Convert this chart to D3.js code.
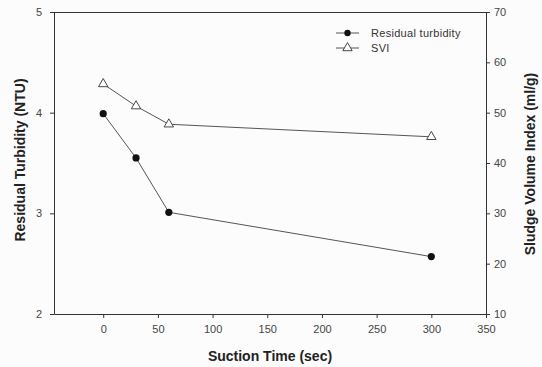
<!DOCTYPE html>
<html>
<head>
<meta charset="utf-8">
<script src="https://cdn.jsdelivr.net/npm/d3@7"></script>
<style>
  html, body { margin: 0; padding: 0; background: #fcfcfc; }
  svg { display: block; }
  .tick text { font-family: "Liberation Sans", Arial, sans-serif; font-size: 11px; fill: #444; }
  .title { font-family: "Liberation Sans", Arial, sans-serif; font-size: 14px; font-weight: bold; fill: #222; }
  .legend { font-family: "Liberation Sans", Arial, sans-serif; font-size: 11px; fill: #333; letter-spacing: 0.3px; }
</style>
</head>
<body>
<script>
// Suction time (sec) and the two measured responses
const times = [0, 30, 60, 300];
const turbidity = [3.99, 3.55, 3.01, 2.57];   // NTU
const svi = [55.7, 51.3, 47.7, 45.2];          // ml/g
const xTicks = [0, 50, 100, 150, 200, 250, 300, 350];
const yLeftTicks = [2, 3, 4, 5];
const yRightTicks = [10, 20, 30, 40, 50, 60, 70];
const seriesNames = ["Residual turbidity", "SVI"];

const W = 542, H = 367;
const m = { left: 54, right: 56, top: 12, bottom: 53 };

const svg = d3.select("body").append("svg").attr("width", W).attr("height", H);

const x = d3.scaleLinear().domain([-45, 350]).range([m.left, W - m.right]);
const yL = d3.scaleLinear().domain([2, 5]).range([H - m.bottom, m.top]);
const yR = d3.scaleLinear().domain([10, 70]).range([H - m.bottom, m.top]);

const axisColor = "#333";
const fmt = d3.format("d");

// Plot frame top edge
svg.append("line")
  .attr("x1", x.range()[0]).attr("x2", x.range()[1])
  .attr("y1", m.top + 0.5).attr("y2", m.top + 0.5)
  .attr("stroke", axisColor);

const gx = svg.append("g").attr("transform", `translate(0,${H - m.bottom})`)
  .call(d3.axisBottom(x).tickValues(xTicks).tickFormat(fmt).tickSize(4).tickPadding(7).tickSizeOuter(0));
const gl = svg.append("g").attr("transform", `translate(${m.left},0)`)
  .call(d3.axisLeft(yL).tickValues(yLeftTicks).tickFormat(fmt).tickSize(4).tickPadding(8).tickSizeOuter(0));
const gr = svg.append("g").attr("transform", `translate(${W - m.right},0)`)
  .call(d3.axisRight(yR).tickValues(yRightTicks).tickFormat(fmt).tickSize(4).tickPadding(4).tickSizeOuter(0));
[gx, gl, gr].forEach(g => {
  g.selectAll("path, line").attr("stroke", axisColor);
});

// Axis titles
svg.append("text").attr("class", "title")
  .attr("x", 270).attr("y", 361)
  .attr("text-anchor", "middle").text("Suction Time (sec)");
svg.append("text").attr("class", "title")
  .attr("transform", `translate(25,160) rotate(-90)`)
  .attr("text-anchor", "middle").text("Residual Turbidity (NTU)");
svg.append("text").attr("class", "title")
  .attr("transform", `translate(535,164) rotate(-90)`)
  .attr("text-anchor", "middle").text("Sludge Volume Index (ml/g)");

const lineColor = "#555";
const tri = d3.symbol().type(d3.symbolTriangle).size(38);

// Residual turbidity series (left axis)
const turbPts = times.map((t, i) => [x(t), yL(turbidity[i])]);
svg.append("path").attr("d", d3.line()(turbPts))
  .attr("fill", "none").attr("stroke", lineColor).attr("stroke-width", 1);
svg.selectAll(".turb").data(turbPts).enter().append("circle")
  .attr("cx", d => d[0]).attr("cy", d => d[1]).attr("r", 3.6).attr("fill", "#111");

// SVI series (right axis)
const sviPts = times.map((t, i) => [x(t), yR(svi[i])]);
svg.append("path").attr("d", d3.line()(sviPts))
  .attr("fill", "none").attr("stroke", lineColor).attr("stroke-width", 1);
svg.selectAll(".svi").data(sviPts).enter().append("path")
  .attr("d", tri).attr("transform", d => `translate(${d[0]},${d[1]})`)
  .attr("fill", "#fff").attr("stroke", "#333").attr("stroke-width", 0.9);

// Legend
const lg = svg.append("g");
seriesNames.forEach((name, i) => {
  const yy = 33 + i * 15;
  lg.append("line").attr("x1", 336).attr("x2", 359).attr("y1", yy).attr("y2", yy)
    .attr("stroke", lineColor);
  if (i === 0) {
    lg.append("circle").attr("cx", 347.5).attr("cy", yy).attr("r", 3.2).attr("fill", "#111");
  } else {
    lg.append("path").attr("d", tri).attr("transform", `translate(347.5,${yy})`)
      .attr("fill", "#fff").attr("stroke", "#333").attr("stroke-width", 0.9);
  }
  lg.append("text").attr("class", "legend").attr("x", 371).attr("y", yy + 4).text(name);
});
</script>
</body>
</html>
